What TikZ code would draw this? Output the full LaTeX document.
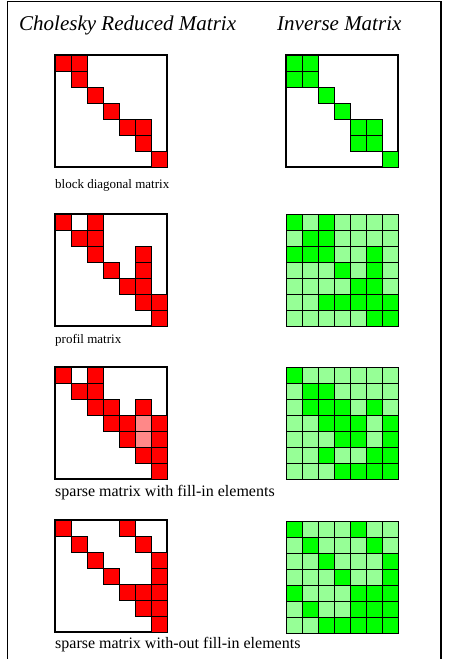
\documentclass[tikz,border=0pt]{standalone}
\usepackage{fontspec}
\setmainfont{Liberation Serif}
\definecolor{cellred}{RGB}{255,0,0}
\definecolor{cellpink}{RGB}{255,136,136}
\definecolor{cellgreen}{RGB}{0,255,0}
\definecolor{cellpale}{RGB}{150,255,150}
% draw a set of 16x16 cells of a 7x7 matrix whose top-left corner is (#1,#2)
\newcommand\cellset[4]{%
  \foreach \r/\c in {#4} {\draw[#3] ({#1+16*\c},{#2+16*\r}) rectangle ++(16,16);}}
% outline of a 7x7 matrix
\newcommand\matbox[2]{\draw[matframe] (#1,#2) rectangle ++(112,112);}
% full 7x7 matrix of pale cells
\newcommand\palefill[2]{%
  \foreach \r in {0,...,6} {\foreach \c in {0,...,6}
    {\draw[palecell] ({#1+16*\c},{#2+16*\r}) rectangle ++(16,16);}}}
\begin{document}
\begin{tikzpicture}[x=1pt,y=-1pt,
  matframe/.style={draw=black,line width=1.1pt,fill=white},
  redcell/.style={draw=black,line width=0.9pt,fill=cellred},
  pinkcell/.style={draw=black,line width=0.9pt,fill=cellpink},
  greencell/.style={draw=black,line width=0.9pt,fill=cellgreen},
  palecell/.style={draw=black,line width=0.9pt,fill=cellpale},
  title/.style={anchor=base west,inner sep=0pt,font=\fontsize{21}{23}\selectfont\itshape},
  caption/.style={anchor=base west,inner sep=0pt,font=\fontsize{13}{15}\selectfont},
  bigcaption/.style={anchor=base west,inner sep=0pt,font=\fontsize{16}{18}\selectfont}]
\useasboundingbox (0,0) rectangle (449,659);
\fill[white] (0,0) rectangle (449,659);
\draw[line width=1.1pt] (7.5,670) -- (7.5,1.5) -- (441,1.5) -- (441,670);

\node[title] (tchol) at (19,30) {Cholesky Reduced Matrix};
\node[title] (tinv) at (277,30) {Inverse Matrix};

% block diagonal matrix
\matbox{55}{55}
\cellset{55}{55}{redcell}{0/0,0/1,1/1,2/2,3/3,4/4,4/5,5/5,6/6}
\node[caption] (cap1) at (55,188) {block diagonal matrix};
\matbox{286}{55}
\cellset{286}{55}{greencell}{0/0,0/1,1/0,1/1,2/2,3/3,4/4,4/5,5/4,5/5,6/6}

% profile matrix
\matbox{55}{214}
\cellset{55}{214}{redcell}{0/0,0/2,1/1,1/2,2/2,2/5,3/3,3/5,4/4,4/5,5/5,5/6,6/6}
\node[caption] (cap2) at (55,343) {profil matrix};
\palefill{286}{214}
\cellset{286}{214}{greencell}{0/0,0/2,1/1,1/2,2/0,2/1,2/2,2/5,3/3,3/5,4/4,4/5,5/2,5/3,5/4,5/5,5/6,6/5,6/6}

% sparse matrix with fill-in
\matbox{55}{367}
\cellset{55}{367}{redcell}{0/0,0/2,1/1,1/2,2/2,2/3,2/5,3/3,3/4,3/6,4/4,4/6,5/5,5/6,6/6}
\cellset{55}{367}{pinkcell}{3/5,4/5}
\node[bigcaption] (cap3) at (55,496) {sparse matrix with fill-in elements};
\palefill{286}{367}
\cellset{286}{367}{greencell}{0/0,1/1,1/2,2/1,2/2,2/3,2/5,3/2,3/3,3/4,3/6,4/3,4/4,4/6,5/2,5/5,5/6,6/3,6/4,6/5,6/6}

% sparse matrix without fill-in
\matbox{55}{520}
\cellset{55}{520}{redcell}{0/0,0/4,1/1,1/5,2/2,2/6,3/3,3/6,4/4,4/5,4/6,5/5,5/6,6/6}
\node[bigcaption] (cap4) at (55,648) {sparse matrix with-out fill-in elements};
\palefill{286}{521}
\cellset{286}{521}{greencell}{0/0,0/4,1/1,1/5,2/2,2/6,3/3,3/6,4/0,4/4,4/5,4/6,5/1,5/4,5/5,5/6,6/2,6/3,6/4,6/5,6/6}
\end{tikzpicture}
\end{document}
